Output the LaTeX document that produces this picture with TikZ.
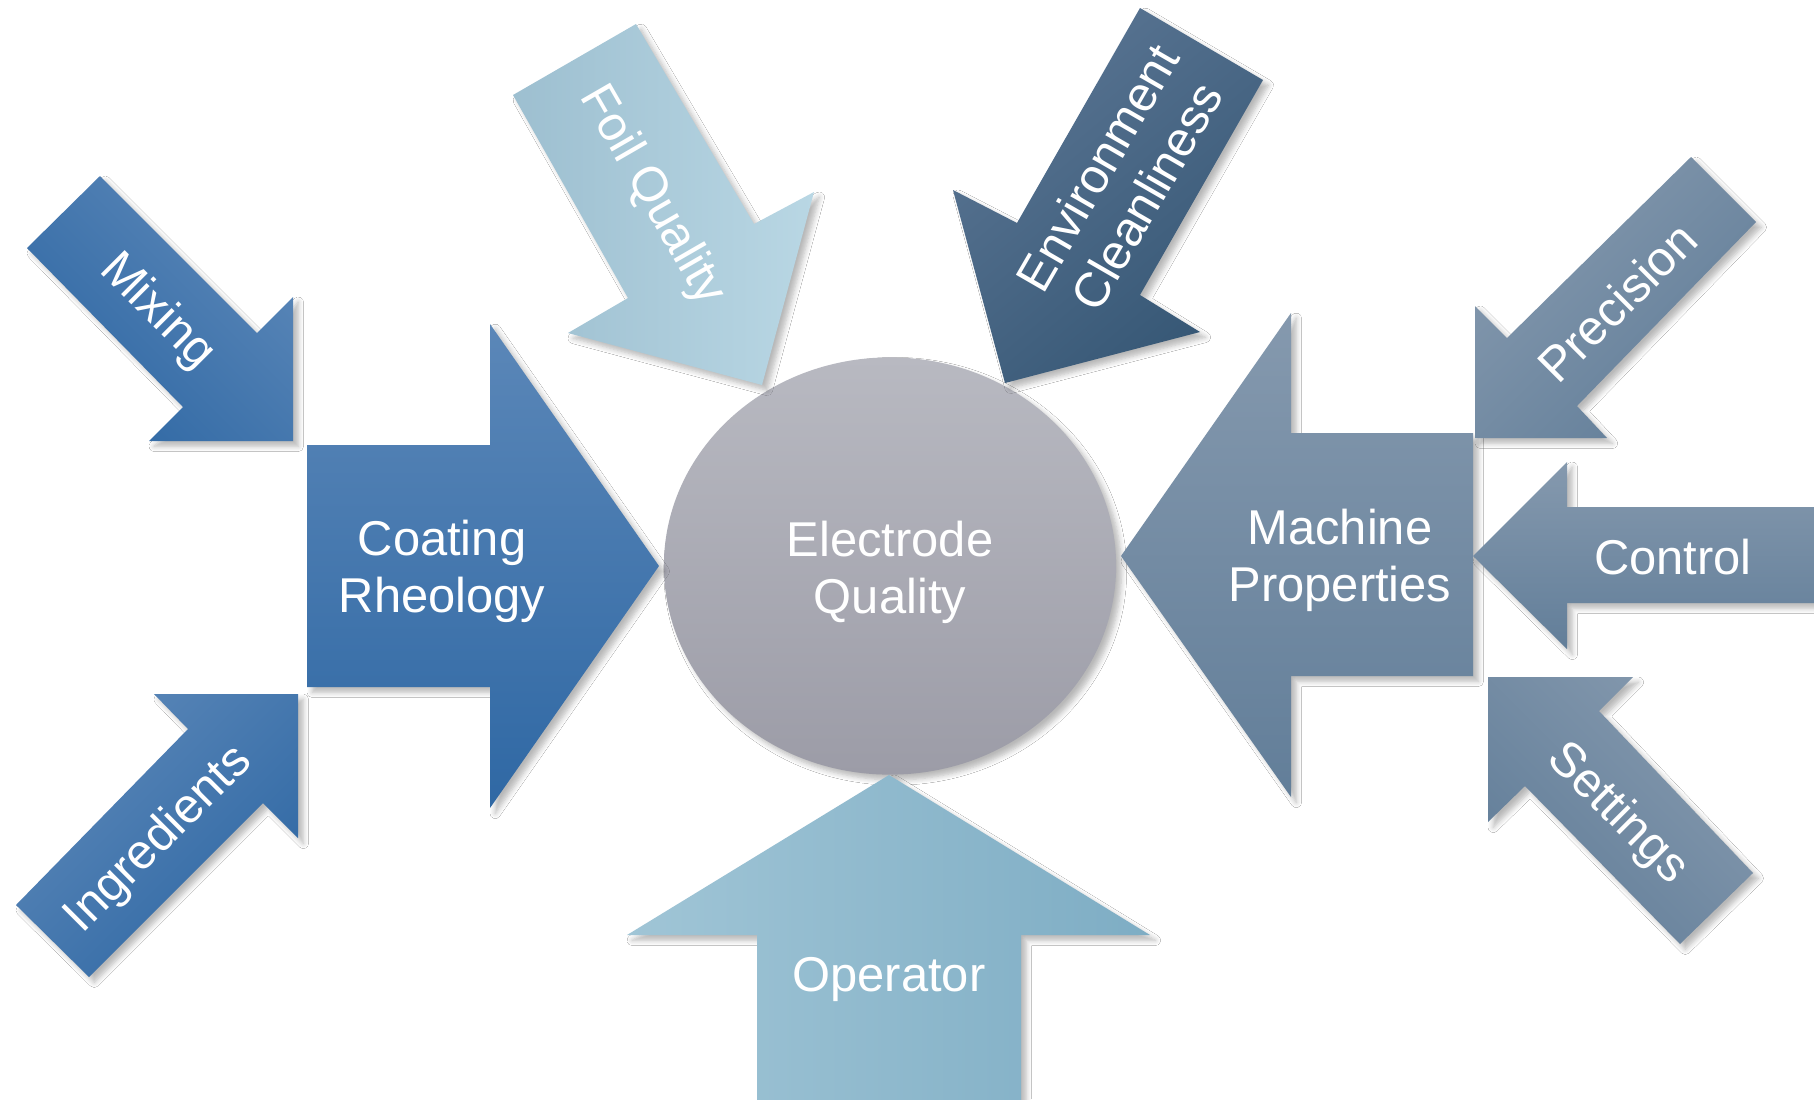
\documentclass[tikz,border=0pt]{standalone}
\usepackage{fontspec}
\setmainfont{Liberation Sans}
\usetikzlibrary{shapes.geometric,shadows.blur}
\definecolor{blueL}{HTML}{5B87B8}
\definecolor{blueD}{HTML}{2F68A4}
\definecolor{foilL}{HTML}{B9D7E4}
\definecolor{foilD}{HTML}{9DBFD0}
\definecolor{envL}{HTML}{5A7593}
\definecolor{envD}{HTML}{365775}
\definecolor{greyL}{HTML}{8599AE}
\definecolor{greyD}{HTML}{627E99}
\definecolor{opL}{HTML}{A0C5D6}
\definecolor{opD}{HTML}{7EADC4}
\definecolor{circT}{HTML}{B8B9C1}
\definecolor{circB}{HTML}{9C9CA7}
\begin{document}
\begin{tikzpicture}[x=0.01cm,y=-0.01cm,
  lbl/.style={text=white,font=\fontsize{13.9}{16.2}\selectfont,align=center,inner sep=0pt},
  shp/.style={blur shadow={shadow xshift=1.5pt,shadow yshift=-1.5pt,shadow blur steps=6,shadow opacity=28,shadow blur radius=1.5pt}},
  bluearrow/.style={shp,top color=blueL,bottom color=blueD},
  greyarrow/.style={shp,top color=greyL,bottom color=greyD},
]
\useasboundingbox[fill=white] (0,0) rectangle (1814,1099);

% central circle
\node[ellipse,shp,top color=circT,bottom color=circB,minimum width=4.52cm,minimum height=4.17cm,inner sep=0pt] (eq) at (890,566) {};
\node[lbl] (eqT) at (890,572) {Electrode\\Quality};

% Coating Rheology
\path[bluearrow] (307,445) -- (490,445) -- (490,324) -- (659,566) -- (490,808) -- (490,687) -- (307,687) -- cycle;
\node[lbl] (coat) at (442,571) {Coating\\Rheology};

% Mixing
\path[bluearrow,shading angle=-45] (100,176) -- (257,333) -- (293,297) -- (293,441) -- (149,441) -- (183,407) -- (27,248) -- cycle;
\node[lbl,rotate=-45] (mix) at (157,312) {Mixing};

% Ingredients
\path[bluearrow,shading angle=45] (154,694) -- (298,694) -- (298,838) -- (263,803) -- (89,977) -- (16,905) -- (188,729) -- cycle;
\node[lbl,rotate=45] (ing) at (159,840) {Ingredients};

% Foil Quality
\path[shp,left color=foilD,right color=foilL] (636,24) -- (754,224) -- (814,192) -- (762,385) -- (568,333) -- (628,298) -- (513,95) -- cycle;
\node[lbl,rotate=-60] (foil) at (652,196) {Foil Quality};

% Environment Cleanliness
\path[shp,top color=envL,bottom color=envD,shading angle=40] (1140,8) -- (1263,80) -- (1140,295) -- (1200,332) -- (1005,383) -- (953,190) -- (1017,223) -- cycle;
\node[lbl,rotate=60] (env) at (1122,182) {Environment\\Cleanliness};

% Machine Properties
\path[greyarrow] (1473,433) -- (1291,433) -- (1291,313) -- (1121,556) -- (1291,797) -- (1291,676) -- (1473,676) -- cycle;
\node[lbl] (mach) at (1340,560) {Machine\\Properties};

% Precision
\path[greyarrow,shading angle=45] (1691,157) -- (1756,222) -- (1577,406) -- (1607,438) -- (1475,438) -- (1475,306) -- (1507,338) -- cycle;
\node[lbl,rotate=45] (prec) at (1617,302) {Precision};

% Control
\path[greyarrow] (1473,556) -- (1567,462) -- (1567,507) -- (1830,507) -- (1830,603) -- (1567,603) -- (1567,649) -- cycle;
\node[lbl] (ctrl) at (1673,557) {Control};

% Settings
\path[greyarrow,shading angle=-45] (1488,677) -- (1633,677) -- (1599,711) -- (1753,873) -- (1680,944) -- (1525,786) -- (1488,822) -- cycle;
\node[lbl,rotate=-45] (set) at (1617,814) {Settings};

% Operator
\path[shp,left color=opL,right color=opD] (889,775) -- (1150,935) -- (1021,935) -- (1021,1115) -- (757,1115) -- (757,935) -- (627,935) -- cycle;
\node[lbl] (op) at (889,979) {Operator};
\end{tikzpicture}
\end{document}
